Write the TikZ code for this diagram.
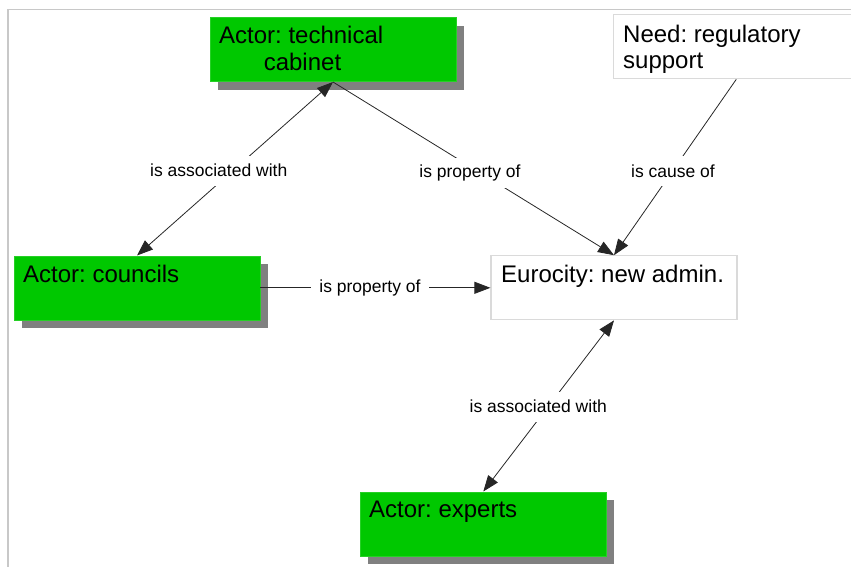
\documentclass[tikz,border=0pt]{standalone}
\usepackage{fontspec}
\setmainfont{Liberation Sans}
\frenchspacing
\usetikzlibrary{arrows.meta,shadows}
\definecolor{actorgreen}{RGB}{0,200,0}
\definecolor{shadowgray}{RGB}{128,128,128}
\definecolor{boxborder}{RGB}{218,218,218}
\definecolor{framegray}{RGB}{200,200,200}
\tikzset{
  actorbox/.style={rectangle, minimum width=246pt, minimum height=64pt, inner sep=0pt,
    fill=actorgreen, draw=actorgreen!85!white, line width=0.6pt,
    drop shadow={shadow xshift=8pt, shadow yshift=-8pt, fill=shadowgray, opacity=1}},
  plainbox/.style={rectangle, minimum width=246pt, minimum height=64pt, inner sep=0pt,
    fill=white, draw=boxborder, line width=1.2pt},
  boxtext/.style={inner sep=0pt, anchor=base west, font=\fontsize{24}{27}\selectfont},
  linktext/.style={fill=white, inner xsep=8pt, inner ysep=0pt, minimum height=30pt,
    font=\fontsize{17.5}{20}\selectfont},
  link/.style={draw=black!85, line width=0.8pt},
  tip/.style={-{Triangle[length=16pt,width=12pt]}},
  tips/.style={{Triangle[length=16pt,width=12pt]}-{Triangle[length=16pt,width=12pt]}}
}
\begin{document}
\begin{tikzpicture}[x=1pt,y=-1pt]
\useasboundingbox (0,0) rectangle (851,567);
\draw[framegray, line width=1.5pt] (7.8,567) -- (7.8,9.5) -- (851,9.5);

% boxes
\node[actorbox] (cab) at (333,49.7) {};
\node[plainbox] (need) at (736.3,46.7) {};
\node[actorbox] (coun) at (137,287.8) {};
\node[plainbox] (euro) at (614,287.8) {};
\node[actorbox] (exp) at (483.3,523.8) {};

% box texts
\node[boxtext] (cabt1) at (219,43.5) {Actor: technical};
\node[boxtext, anchor=base] (cabt2) at (302.5,71) {cabinet};
\node[boxtext] (needt1) at (623,42.3) {Need: regulatory};
\node[boxtext] (needt2) at (623,68.5) {support};
\node[boxtext] (count) at (23,282.7) {Actor: councils};
\node[boxtext] (eurot) at (501,282.7) {Eurocity: new admin.};
\node[boxtext] (expt) at (369,517.7) {Actor: experts};

% connectors
\draw[link, tips] (cab.south) -- (coun.north);
\draw[link, tip] (cab.south) -- (euro.north);
\draw[link, tip] (need.south) -- (euro.north);
\draw[link, tip] (coun.east) -- (euro.west);
\draw[link, tips] (exp.north) -- (euro.south);

% connector labels
\node[linktext] (l1) at (218.7,170.5) {is associated with};
\node[linktext] (l2) at (470,172.5) {is property of};
\node[linktext] (l3) at (673,171) {is cause of};
\node[linktext] (l4) at (370,288) {is property of};
\node[linktext] (l5) at (538.3,406.7) {is associated with};
\end{tikzpicture}
\end{document}
